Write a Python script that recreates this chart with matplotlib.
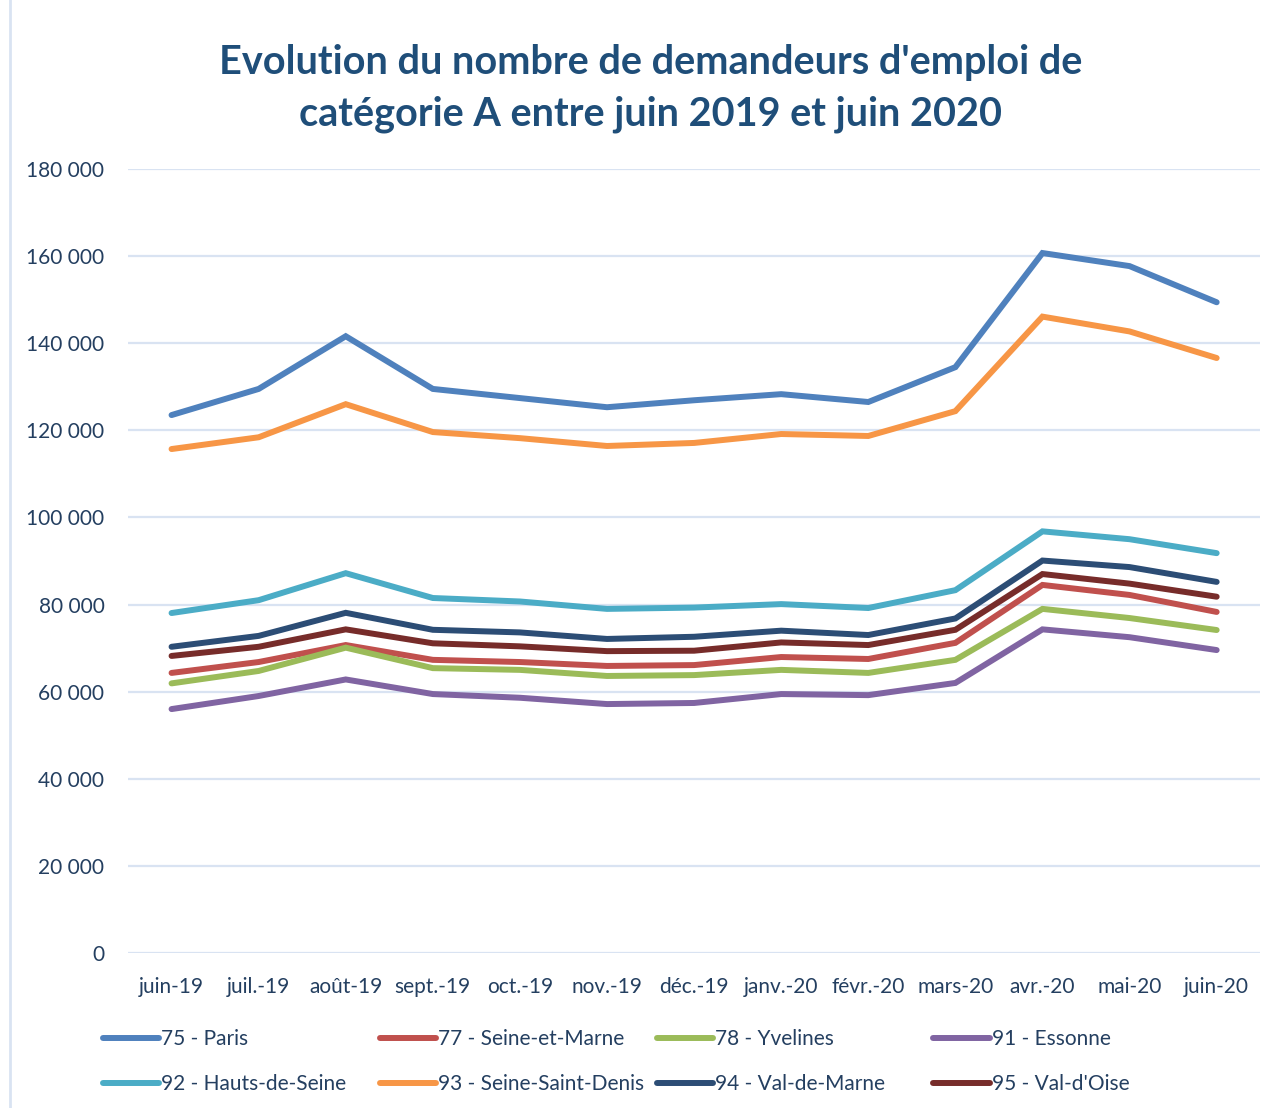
import matplotlib.pyplot as plt
from matplotlib.lines import Line2D
from matplotlib.ticker import FuncFormatter

# data
months = ['juin-19', 'juil.-19', 'août-19', 'sept.-19', 'oct.-19', 'nov.-19', 'déc.-19',
          'janv.-20', 'févr.-20', 'mars-20', 'avr.-20', 'mai-20', 'juin-20']

paris = [123500, 129500, 141600, 129500, 127400, 125300, 126900, 128300, 126500, 134500, 160700, 157700, 149400]
seine_marne = [64300, 66800, 70700, 67300, 66800, 65900, 66100, 67950, 67500, 71200, 84500, 82200, 78300]
yvelines = [61900, 64750, 70100, 65400, 65000, 63600, 63800, 65000, 64300, 67300, 79000, 76900, 74150]
essonne = [56000, 59000, 62800, 59450, 58600, 57150, 57400, 59450, 59200, 62000, 74300, 72500, 69550]
hauts_seine = [78050, 81000, 87200, 81500, 80700, 79000, 79300, 80100, 79200, 83300, 96800, 95000, 91800]
seine_st_denis = [115700, 118400, 126000, 119600, 118200, 116400, 117100, 119150, 118700, 124400, 146100, 142700, 136600]
val_marne = [70300, 72800, 78100, 74200, 73600, 72100, 72600, 74000, 73000, 76800, 90100, 88600, 85200]
val_oise = [68200, 70300, 74300, 71100, 70400, 69300, 69400, 71300, 70700, 74200, 87000, 84800, 81800]

series = [
    ('75 - Paris', paris, '#4F81BD'),
    ('77 - Seine-et-Marne', seine_marne, '#C0504D'),
    ('78 - Yvelines', yvelines, '#9BBB59'),
    ('91 - Essonne', essonne, '#8064A2'),
    ('92 - Hauts-de-Seine', hauts_seine, '#4BACC6'),
    ('93 - Seine-Saint-Denis', seine_st_denis, '#F79646'),
    ('94 - Val-de-Marne', val_marne, '#2C4D75'),
    ("95 - Val-d'Oise", val_oise, '#772C2A'),
]

plt.rcParams['font.family'] = ['Lato', 'DejaVu Sans']
txt_color = '#243F60'

fig = plt.figure(figsize=(12.75, 11.08), dpi=100)
ax = fig.add_axes([0.1004, 0.1399, 0.888, 0.7076])

x = list(range(len(months)))
lines = []
for name, vals, col in series:
    ln, = ax.plot(x, vals, color=col, lw=4.3, solid_capstyle='round',
                  solid_joinstyle='miter', label=name)
    lines.append(ln)

ax.set_xlim(-0.5, len(months) - 0.5)
ax.set_ylim(0, 180000)
ax.set_yticks(range(0, 180001, 20000))
ax.yaxis.set_major_formatter(FuncFormatter(lambda v, p: '{:,}'.format(int(v)).replace(',', ' ')))
ax.set_xticks(x)
ax.set_xticklabels(months)
ax.tick_params(axis='both', length=0, labelsize=15, labelcolor=txt_color)
ax.tick_params(axis='x', pad=17)
ax.tick_params(axis='y', pad=17)
ax.grid(axis='y', color='#D9E3F2', lw=1.6)
ax.set_axisbelow(True)
for s in ax.spines.values():
    s.set_visible(False)

fig.text(0.51, 0.920, "Evolution du nombre de demandeurs d'emploi de\ncatégorie A entre juin 2019 et juin 2020",
         ha='center', va='center', fontsize=28.5, fontweight='bold', color='#1F4E79', linespacing=1.5)

# legend as 4 columns of 2 rows, each column placed separately so they are evenly spaced
col_x = [0.0808, 0.298, 0.515, 0.732]
for c in range(4):
    leg = fig.legend([lines[c], lines[c + 4]], [series[c][0], series[c + 4][0]],
                     loc='upper left', bbox_to_anchor=(col_x[c], 0.071),
                     frameon=False, fontsize=15, handlelength=2.7, handletextpad=0.1,
                     labelspacing=1.2, borderpad=0, borderaxespad=0)
    for t in leg.get_texts():
        t.set_color(txt_color)

# thin frame line on the left edge of the chart area
fig.add_artist(Line2D([0.008, 0.008], [0, 1], transform=fig.transFigure, color='#D9E3F2', lw=2))

fig.savefig('out.png', dpi=100)
